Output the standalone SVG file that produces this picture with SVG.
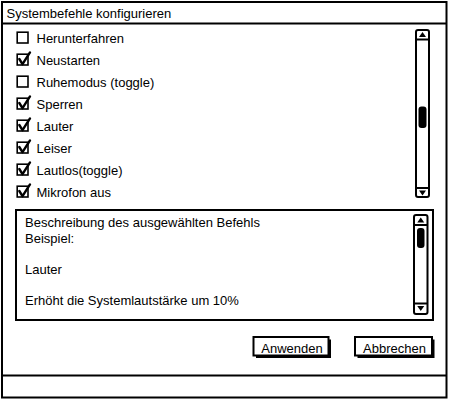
<svg xmlns="http://www.w3.org/2000/svg" width="450" height="400" viewBox="0 0 450 400">
<style>
text{font-family:"Liberation Sans",Arial,sans-serif;font-size:13px;fill:#000}
.frame{fill:#fff;stroke:#000;stroke-width:2}
.box{fill:#fff;stroke:#000;stroke-width:1.6}
.chk{fill:none;stroke:#000;stroke-width:2.4;stroke-linecap:round;stroke-linejoin:round}
.ln{stroke:#000;stroke-width:2;fill:none}
.sb{fill:#fff;stroke:#000;stroke-width:2}
.tri{fill:#000}
.thumb{fill:#000}
.shadow{fill:#000}
</style>
<defs>
<g id="cb"><rect class="box" x="17.2" y="0" width="10.8" height="10.8"/></g>
<g id="cbc"><rect class="box" x="17.2" y="0" width="10.8" height="10.8"/><path class="chk" d="M19.3 4.8 L22.5 10 L30 -1.8"/></g>
</defs>
<rect width="450" height="400" fill="#fff"/>
<g id="window">
<rect class="frame" x="2" y="2" width="444.5" height="395.5"/>
<line class="ln" x1="2" y1="23.5" x2="446.5" y2="23.5"/>
<text x="6.5" y="17.5">Systembefehle konfigurieren</text>
<line class="ln" x1="2" y1="375.5" x2="446.5" y2="375.5"/>
</g>
<g id="list">
<use href="#cb" y="32.2"/><text x="36.5" y="42.5">Herunterfahren</text>
<use href="#cbc" y="54.2"/><text x="36.5" y="64.5">Neustarten</text>
<use href="#cb" y="76.2"/><text x="36.5" y="86.5">Ruhemodus (toggle)</text>
<use href="#cbc" y="98.2"/><text x="36.5" y="108.5">Sperren</text>
<use href="#cbc" y="120.2"/><text x="36.5" y="130.5">Lauter</text>
<use href="#cbc" y="142.2"/><text x="36.5" y="152.5">Leiser</text>
<use href="#cbc" y="164.2"/><text x="36.5" y="174.5">Lautlos(toggle)</text>
<use href="#cbc" y="186.2"/><text x="36.5" y="196.5">Mikrofon aus</text>
</g>
<g id="list-scrollbar">
<rect class="sb" x="416" y="30" width="13" height="167" rx="2"/>
<line class="ln" x1="416" y1="39.5" x2="429" y2="39.5"/>
<path class="tri" d="M422.5 32 L426 37 L419 37 Z"/>
<line class="ln" x1="416" y1="188" x2="429" y2="188"/>
<path class="tri" d="M419 190.5 L426 190.5 L422.5 195.5 Z"/>
<rect class="thumb" x="418.5" y="106.5" width="8" height="21.5" rx="3"/>
</g>
<g id="description">
<rect class="frame" x="16" y="210" width="417" height="110"/>
<text x="25" y="227.3">Beschreibung des ausgewählten Befehls</text>
<text x="25" y="242.9">Beispiel:</text>
<text x="25" y="274.2">Lauter</text>
<text x="25" y="305.4">Erhöht die Systemlautstärke um 10%</text>
</g>
<g id="description-scrollbar">
<rect class="sb" x="414" y="215" width="13.5" height="99" rx="2"/>
<line class="ln" x1="414" y1="225" x2="427.5" y2="225"/>
<path class="tri" d="M420.75 217.5 L424.25 222.5 L417.25 222.5 Z"/>
<line class="ln" x1="414" y1="303.5" x2="427.5" y2="303.5"/>
<path class="tri" d="M417.25 306 L424.25 306 L420.75 311 Z"/>
<rect class="thumb" x="417" y="228" width="7.5" height="20" rx="3"/>
</g>
<g id="btn-anwenden">
<rect class="shadow" x="256" y="339.5" width="75" height="18.5"/>
<rect class="frame" x="253.5" y="337" width="75" height="18.5"/>
<text x="292" y="352.5" text-anchor="middle">Anwenden</text>
</g>
<g id="btn-abbrechen">
<rect class="shadow" x="357.5" y="339.5" width="77" height="18.5"/>
<rect class="frame" x="355" y="337" width="77" height="18.5"/>
<text x="394.5" y="352.5" text-anchor="middle">Abbrechen</text>
</g>
</svg>
